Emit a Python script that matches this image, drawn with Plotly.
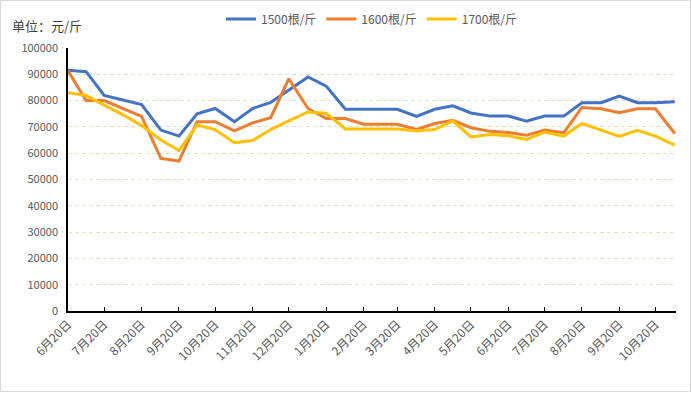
import plotly.graph_objects as go

dates = [
    "2020-06-20", "2020-07-05", "2020-07-20", "2020-08-05", "2020-08-20", "2020-09-05",
    "2020-09-20", "2020-10-05", "2020-10-20", "2020-11-05", "2020-11-20", "2020-12-05",
    "2020-12-20", "2021-01-05", "2021-01-20", "2021-02-05", "2021-02-20", "2021-03-05",
    "2021-03-20", "2021-04-05", "2021-04-20", "2021-05-05", "2021-05-20", "2021-06-05",
    "2021-06-20", "2021-07-05", "2021-07-20", "2021-08-05", "2021-08-20", "2021-09-05",
    "2021-09-20", "2021-10-05", "2021-10-20", "2021-11-05",
]

s1500 = [91500, 91000, 82000, 80200, 78500, 68800, 66500, 75000, 77000, 72000,
         77000, 79300, 84000, 89000, 85500, 76700, 76700, 76700, 76700, 74000,
         76700, 78000, 75300, 74100, 74100, 72200, 74100, 74100, 79200, 79200,
         81700, 79200, 79200, 79600]
s1600 = [91300, 80000, 80000, 77000, 74000, 58000, 57000, 72000, 72000, 68500,
         71500, 73500, 88300, 77000, 73200, 73200, 71000, 71000, 71000, 69000,
         71300, 72500, 69700, 68300, 67900, 66800, 68800, 67800, 77400, 76900,
         75400, 76900, 76900, 67500]
s1700 = [83000, 82000, 78300, 74500, 70500, 65000, 61000, 70700, 69000, 64000,
         64800, 69000, 72300, 75700, 75200, 69200, 69200, 69200, 69200, 68400,
         69000, 72300, 66200, 67100, 66600, 65200, 68000, 66500, 71300, 68800,
         66400, 68700, 66500, 63100]

series_names = ["1500根/斤", "1600根/斤", "1700根/斤"]
series_colors = ["#4472C4", "#ED7D31", "#FFC000"]

tick_dates = [
    "2020-06-20", "2020-07-20", "2020-08-20", "2020-09-20", "2020-10-20", "2020-11-20",
    "2020-12-20", "2021-01-20", "2021-02-20", "2021-03-20", "2021-04-20", "2021-05-20",
    "2021-06-20", "2021-07-20", "2021-08-20", "2021-09-20", "2021-10-20",
]
tick_labels = ["6月20日", "7月20日", "8月20日", "9月20日", "10月20日", "11月20日",
               "12月20日", "1月20日", "2月20日", "3月20日", "4月20日", "5月20日",
               "6月20日", "7月20日", "8月20日", "9月20日", "10月20日"]

FONT = "Microsoft YaHei, Noto Sans CJK SC, sans-serif"

fig = go.Figure()
for name, vals, col in zip(series_names, [s1500, s1600, s1700], series_colors):
    fig.add_trace(go.Scatter(x=dates, y=vals, mode="lines", name=name,
                             line=dict(color=col, width=3)))

W, H = 692, 394
ml, mr, mt, mb = 68, 16, 48, 83
pw, ph = W - ml - mr, H - mt - mb

fig.update_layout(
    width=W, height=H,
    margin=dict(l=ml, r=mr, t=mt, b=mb, autoexpand=False),
    paper_bgcolor="white", plot_bgcolor="white",
    font=dict(family=FONT, size=11, color="#595959"),
    showlegend=True,
    legend=dict(orientation="h", xref="paper", x=0.5, xanchor="center",
                yref="container", y=1 - 19 / H, yanchor="middle",
                font=dict(size=12, color="#595959"), bgcolor="rgba(0,0,0,0)",
                itemwidth=30),
    xaxis=dict(
        type="date", range=["2020-06-20", "2021-11-06"],
        tickmode="array", tickvals=tick_dates, ticktext=tick_labels,
        tickangle=-45, ticks="inside", ticklen=4, tickcolor="black", tickwidth=1,
        showline=True, linecolor="black", linewidth=1.5,
        showgrid=False, zeroline=False, automargin=False,
        tickfont=dict(size=12, color="#595959"),
    ),
    yaxis=dict(
        range=[0, 100000], dtick=10000, tick0=0,
        showline=True, linecolor="black", linewidth=1.5,
        showgrid=True, gridcolor="#d6e7cc", griddash="4px,3px", gridwidth=1,
        zeroline=False, ticks="", tickformat="d", automargin=False,
        ticklabelstandoff=6,
        tickfont=dict(size=11, color="#595959"),
    ),
    annotations=[dict(
        text="单位：元/斤", xref="paper", yref="paper",
        x=(10 - ml) / pw, y=(mt + ph - 25) / ph, xanchor="left", yanchor="middle",
        showarrow=False, font=dict(size=13, color="#404040", family=FONT),
    )],
    shapes=[dict(
        type="rect", xref="paper", yref="paper",
        x0=(0.5 - ml) / pw, x1=(690.5 - ml) / pw,
        y0=(mt + ph - 391.5) / ph, y1=(mt + ph - 0.5) / ph,
        line=dict(color="#d9d9d9", width=1), fillcolor="rgba(0,0,0,0)", layer="below",
    )],
)

fig.write_html("out.html", config={"displayModeBar": False},
               post_script="document.body.style.margin='0';")
